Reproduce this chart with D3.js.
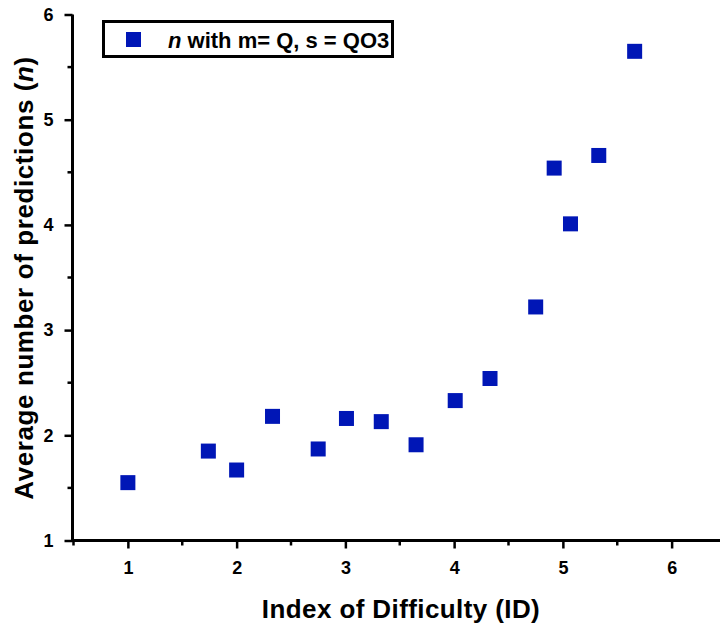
<!DOCTYPE html>
<html lang="en">
<head>
  <meta charset="UTF-8">
  <title>Average number of predictions vs ID</title>
  <script src="https://d3js.org/d3.v7.min.js"></script>
  <style>
    body { margin: 0; background: #fff; }
    svg { display: block; font-family: "Liberation Sans", Arial, sans-serif; }
  </style>
</head>
<body>
  <div id="chart"></div>
  <script>
    // values
    const idValues = [1.0, 1.74, 2.0, 2.33, 2.75, 3.01, 3.33, 3.65, 4.01, 4.33, 4.75, 4.92, 5.07, 5.33, 5.66];
    const nValues  = [1.55, 1.85, 1.67, 2.18, 1.87, 2.16, 2.13, 1.91, 2.33, 2.54, 3.22, 4.54, 4.01, 4.66, 5.65];
    const xMajorTicks = [1, 2, 3, 4, 5, 6];
    const xMinorTicks = [0.5, 1.5, 2.5, 3.5, 4.5, 5.5, 6.5];
    const yMajorTicks = [1, 2, 3, 4, 5, 6];
    const yMinorTicks = [1.5, 2.5, 3.5, 4.5, 5.5];
    const legendLabel = "n with m= Q, s = QO3";

    const width = 720, height = 628;
    const blue = "#0016b6";

    const svg = d3.select("#chart").append("svg")
        .attr("width", width)
        .attr("height", height);

    const x = d3.scaleLinear().domain([0.5, 6.5]).range([73.5, 726]);
    const y = d3.scaleLinear().domain([1, 6]).range([540.5, 14.5]);

    // x axis
    const xAxis = svg.append("g").attr("transform", "translate(0,540.5)");
    xAxis.call(d3.axisBottom(x).tickValues(xMajorTicks).tickSize(8).tickPadding(13).tickFormat(d3.format("d")));
    xAxis.append("g").selectAll("line")
        .data(xMinorTicks)
        .join("line")
        .attr("x1", d => x(d)).attr("x2", d => x(d))
        .attr("y1", 0).attr("y2", 5)
        .attr("stroke", "#000").attr("stroke-width", 2.5);

    // y axis
    const yAxis = svg.append("g").attr("transform", "translate(72.5,0)");
    yAxis.call(d3.axisLeft(y).tickValues(yMajorTicks).tickSize(8).tickPadding(11).tickFormat(d3.format("d")));
    yAxis.append("g").selectAll("line")
        .data(yMinorTicks)
        .join("line")
        .attr("y1", d => y(d)).attr("y2", d => y(d))
        .attr("x1", 0).attr("x2", -5)
        .attr("stroke", "#000").attr("stroke-width", 2.5);

    svg.selectAll(".domain").attr("stroke", "#000").attr("stroke-width", 3);
    svg.selectAll(".tick line").attr("stroke", "#000").attr("stroke-width", 2.5);
    svg.selectAll(".tick text")
        .attr("font-family", "'Liberation Sans', Arial, sans-serif")
        .attr("font-size", 18)
        .attr("font-weight", "bold")
        .attr("fill", "#000");
    // plain lines without the end caps d3 draws
    xAxis.select(".domain").attr("d", `M${x(0.5)},0H${width}`);
    yAxis.select(".domain").attr("d", `M0,${y(6)}V${y(1) + 1.5}`);

    // axis titles
    svg.append("text")
        .attr("x", 401).attr("y", 618)
        .attr("text-anchor", "middle")
        .attr("font-size", 26).attr("font-weight", "bold")
        .attr("letter-spacing", 0.4)
        .text("Index of Difficulty (ID)");

    const yTitle = svg.append("text")
        .attr("transform", "translate(33,278) rotate(-90)")
        .attr("text-anchor", "middle")
        .attr("font-size", 26).attr("font-weight", "bold")
        .attr("letter-spacing", 0.6);
    yTitle.append("tspan").text("Average number of predictions (");
    yTitle.append("tspan").attr("font-style", "italic").text("n");
    yTitle.append("tspan").text(")");

    // points
    const pts = idValues.map((d, i) => ({ x: d, y: nValues[i] }));
    const size = 15;
    svg.append("g").selectAll("rect")
        .data(pts)
        .join("rect")
        .attr("x", d => x(d.x) - size / 2)
        .attr("y", d => y(d.y) - size / 2)
        .attr("width", size).attr("height", size)
        .attr("fill", blue);

    // legend
    const legend = svg.append("g");
    svg.append("clipPath").attr("id", "legclip")
      .append("rect").attr("x", 103).attr("y", 20).attr("width", 289).attr("height", 37);
    legend.append("rect")
        .attr("x", 103.5).attr("y", 21.5).attr("width", 289).attr("height", 35)
        .attr("fill", "#fff").attr("stroke", "#000").attr("stroke-width", 3);
    legend.append("rect")
        .attr("x", 126).attr("y", 32).attr("width", size).attr("height", size)
        .attr("fill", blue);
    const legText = legend.append("text")
        .attr("clip-path", "url(#legclip)")
        .attr("x", 168).attr("y", 48)
        .attr("font-size", 22).attr("font-weight", "bold");
    legText.append("tspan").attr("font-style", "italic").text(legendLabel.slice(0, 1));
    legText.append("tspan").text(legendLabel.slice(1));
  </script>
</body>
</html>
